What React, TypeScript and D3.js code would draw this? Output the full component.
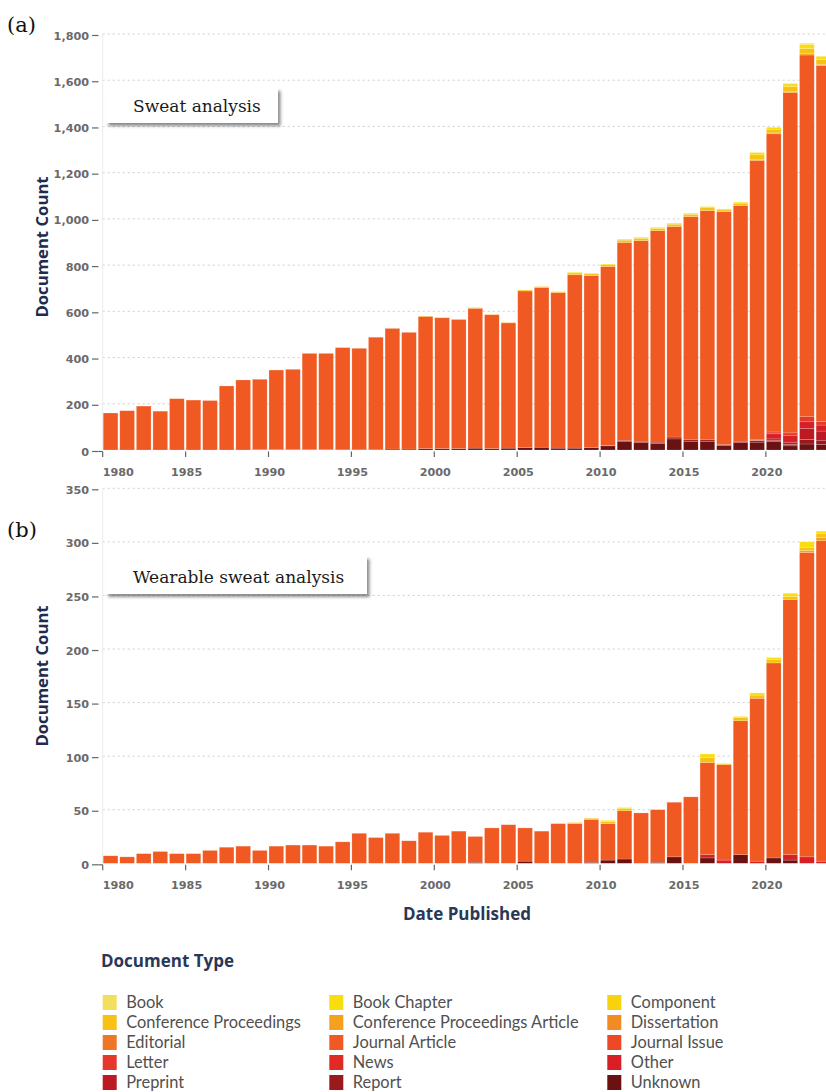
import React from "react";
import * as d3 from "d3";

// Publication years shown on both panels
const YEARS = d3.range(1980, 2024);

// Legend order (top of each bar stack first)
const DOC_TYPES = [
  "Book",
  "Book Chapter",
  "Component",
  "Conference Proceedings",
  "Conference Proceedings Article",
  "Dissertation",
  "Editorial",
  "Journal Article",
  "Journal Issue",
  "Letter",
  "News",
  "Other",
  "Preprint",
  "Report",
  "Unknown",
];
const DOC_COLORS = [
  "#f3df5e",
  "#f9dd0d",
  "#f8d10f",
  "#f7c116",
  "#f5a01f",
  "#f28b21",
  "#ef7624",
  "#f05a22",
  "#ec4924",
  "#e5372a",
  "#df2a26",
  "#d81f26",
  "#bb1a22",
  "#981a1d",
  "#6a1111",
];

// ---- (a) Sweat analysis: documents per year by type ----
const sweatJournalArticle = [
  160, 170, 190, 168, 222, 216, 214, 277, 303, 304,
  344, 347, 416, 416, 440, 437, 485, 522, 505, 572,
  566, 559, 605, 579, 542, 678, 691, 673, 750, 744,
  774, 856, 868, 915, 911, 966, 992, 1007, 1020, 1209,
  1290, 1472, 1565, 1539,
];
const sweatUnknown = [
  0, 0, 0, 0, 0, 0, 0, 0, 0, 2,
  2, 2, 2, 2, 3, 3, 3, 4, 4, 6,
  6, 6, 8, 6, 8, 10, 12, 8, 8, 10,
  18, 36, 32, 28, 48, 38, 38, 20, 32, 34,
  36, 18, 26, 24,
];
const sweatReport = [
  0, 0, 0, 0, 0, 0, 0, 0, 0, 0,
  0, 0, 0, 0, 0, 0, 0, 0, 0, 0,
  0, 0, 0, 0, 0, 0, 0, 0, 0, 0,
  2, 6, 6, 6, 8, 6, 6, 4, 6, 6,
  6, 6, 20, 16,
];
const sweatPreprint = [
  0, 0, 0, 0, 0, 0, 0, 0, 0, 0,
  0, 0, 0, 0, 0, 0, 0, 0, 0, 0,
  0, 0, 0, 0, 0, 0, 0, 0, 0, 0,
  0, 0, 0, 0, 0, 0, 0, 0, 0, 2,
  6, 10, 48, 42,
];
const sweatOther = [
  0, 0, 0, 0, 0, 0, 0, 0, 0, 0,
  0, 0, 0, 0, 0, 0, 0, 0, 0, 0,
  0, 0, 0, 0, 0, 0, 0, 0, 0, 0,
  0, 0, 0, 0, 0, 0, 0, 0, 0, 2,
  22, 30, 28, 26,
];
const sweatLetter = [
  0, 0, 0, 0, 0, 0, 0, 0, 0, 0,
  0, 0, 0, 0, 0, 0, 0, 0, 0, 0,
  0, 0, 0, 0, 0, 0, 0, 0, 0, 0,
  0, 0, 0, 0, 0, 0, 0, 0, 0, 0,
  8, 10, 22, 16,
];
const sweatConfArticle = [
  0, 0, 0, 0, 0, 0, 0, 0, 0, 0,
  0, 0, 0, 0, 0, 0, 0, 0, 0, 0,
  0, 0, 0, 0, 0, 0, 0, 0, 0, 0,
  0, 0, 0, 0, 0, 0, 0, 0, 0, 4,
  4, 6, 6, 6,
];
const sweatConfProc = [
  0, 0, 0, 0, 0, 0, 0, 0, 0, 0,
  0, 0, 0, 0, 0, 0, 0, 0, 0, 2,
  2, 2, 3, 2, 2, 4, 4, 4, 8, 8,
  8, 10, 10, 10, 10, 10, 12, 8, 10, 20,
  16, 20, 22, 20,
];
const sweatBookChapter = [
  0, 0, 0, 0, 0, 0, 0, 0, 0, 0,
  0, 0, 0, 0, 0, 0, 0, 0, 0, 0,
  0, 0, 0, 0, 0, 0, 0, 0, 3, 3,
  3, 4, 4, 4, 4, 4, 5, 4, 4, 10,
  8, 12, 18, 12,
];
const sweatBook = [
  0, 0, 0, 0, 0, 0, 0, 0, 0, 0,
  0, 0, 0, 0, 0, 0, 0, 0, 0, 0,
  0, 0, 0, 0, 0, 0, 0, 0, 0, 0,
  0, 0, 0, 0, 0, 0, 0, 0, 0, 0,
  0, 3, 5, 4,
];

// ---- (b) Wearable sweat analysis ----
const wearJournalArticle = [
  7, 6, 9, 11, 9, 9, 12, 15, 16, 12,
  16, 17, 17, 16, 20, 28, 24, 28, 21, 29,
  26, 30, 24, 33, 36, 31, 30, 37, 37, 40,
  34, 45, 47, 49, 51, 62, 86, 89, 125, 152,
  182, 238, 284, 299,
];
const wearUnknown = [
  0, 0, 0, 0, 0, 0, 0, 0, 0, 0,
  0, 0, 0, 0, 0, 0, 0, 0, 0, 0,
  0, 0, 1, 0, 0, 2, 0, 0, 0, 1,
  3, 4, 0, 1, 6, 0, 5, 0, 8, 0,
  5, 3, 0, 0,
];
const wearOther = [
  0, 0, 0, 0, 0, 0, 0, 0, 0, 0,
  0, 0, 0, 0, 0, 0, 0, 0, 0, 0,
  0, 0, 0, 0, 0, 0, 0, 0, 0, 0,
  0, 0, 0, 0, 0, 0, 3, 3, 0, 2,
  0, 5, 6, 2,
];
const wearConfArticle = [
  0, 0, 0, 0, 0, 0, 0, 0, 0, 0,
  0, 0, 0, 0, 0, 0, 0, 0, 0, 0,
  0, 0, 0, 0, 0, 0, 0, 0, 0, 0,
  0, 0, 0, 0, 0, 0, 0, 0, 0, 0,
  0, 0, 2, 3,
];
const wearConfProc = [
  0, 0, 0, 0, 0, 0, 0, 0, 0, 0,
  0, 0, 0, 0, 0, 0, 0, 0, 0, 0,
  0, 0, 0, 0, 0, 0, 0, 0, 1, 1,
  2, 2, 0, 0, 0, 0, 5, 1, 3, 3,
  3, 3, 3, 4,
];
const wearBookChapter = [
  0, 0, 0, 0, 0, 0, 0, 0, 0, 0,
  0, 0, 0, 0, 0, 0, 0, 0, 0, 0,
  0, 0, 0, 0, 0, 0, 0, 0, 0, 0,
  1, 1, 0, 0, 0, 0, 3, 0, 1, 2,
  2, 3, 5, 2,
];

const SWEAT_TICKS = [0, 200, 400, 600, 800, 1000, 1200, 1400, 1600, 1800];
const WEAR_TICKS = [0, 50, 100, 150, 200, 250, 300, 350];

const sweatSeries: Record<string, number[]> = {
  "Journal Article": sweatJournalArticle,
  Unknown: sweatUnknown,
  Report: sweatReport,
  Preprint: sweatPreprint,
  Other: sweatOther,
  Letter: sweatLetter,
  "Conference Proceedings Article": sweatConfArticle,
  "Conference Proceedings": sweatConfProc,
  "Book Chapter": sweatBookChapter,
  Book: sweatBook,
};
const wearSeries: Record<string, number[]> = {
  "Journal Article": wearJournalArticle,
  Unknown: wearUnknown,
  Other: wearOther,
  "Conference Proceedings Article": wearConfArticle,
  "Conference Proceedings": wearConfProc,
  "Book Chapter": wearBookChapter,
};

const color = d3.scaleOrdinal<string, string>(DOC_TYPES, DOC_COLORS);

const X_LEFT = 102.7;
const YEAR_W = 16.58;
const x = d3
  .scaleTime()
  .domain([new Date(1980, 0, 1), new Date(2025, 0, 1)])
  .range([X_LEFT, X_LEFT + 45 * YEAR_W]);

const TICK_FONT = "'DejaVu Sans', Verdana, sans-serif";
const SANS = "'Open Sans', 'Noto Sans', sans-serif";
const LEGEND_FONT = "Lato, 'Open Sans', sans-serif";
const SERIF = "'DejaVu Serif', serif";

type PanelProps = {
  series: Record<string, number[]>;
  ticks: number[];
  yBottom: number;
  yTop: number;
  tag: string;
  tagY: number;
  title: string;
  box: { x: number; y: number; w: number; h: number };
  axisLabelY: number;
};

function Panel({ series, ticks, yBottom, yTop, tag, tagY, title, box, axisLabelY }: PanelProps) {
  const y = d3
    .scaleLinear()
    .domain([0, ticks[ticks.length - 1]])
    .range([yBottom, yTop]);

  const rows = YEARS.map((year, i) => {
    const row: Record<string, number> = { year };
    DOC_TYPES.forEach((t) => {
      row[t] = series[t] ? series[t][i] : 0;
    });
    return row;
  });
  const layers = d3.stack<Record<string, number>>().keys([...DOC_TYPES].reverse())(rows);

  const yearTicks = x.ticks(d3.timeYear.every(5)!).filter((d) => d.getFullYear() <= 2020);

  return (
    <g>
      {/* horizontal dotted grid */}
      {ticks
        .filter((t) => t > 0)
        .map((t) => (
          <line
            key={"g" + t}
            x1={X_LEFT}
            x2={826}
            y1={y(t)}
            y2={y(t)}
            stroke="#cfcfcf"
            strokeWidth={1}
            strokeDasharray="2,3"
          />
        ))}
      {/* faint y axis line */}
      <line x1={X_LEFT} x2={X_LEFT} y1={yTop} y2={yBottom} stroke="#ececec" strokeWidth={1} />

      {/* stacked bars */}
      {layers.map((layer) => (
        <g key={layer.key} fill={color(layer.key)}>
          {layer.map((d, i) => {
            const h = y(d[0]) - y(d[1]);
            if (h <= 0) return null;
            const year = YEARS[i];
            const x0 = x(new Date(year, 0, 1));
            const x1 = x(new Date(year + 1, 0, 1));
            return (
              <rect
                key={year}
                x={x0 + 0.5}
                y={y(d[1])}
                width={x1 - x0 - 1.9}
                height={h}
                stroke="#fff"
                strokeOpacity={0.35}
                strokeWidth={0.5}
              />
            );
          })}
        </g>
      ))}

      {/* y ticks and labels */}
      {ticks.map((t) => (
        <g key={"t" + t}>
          <line x1={92} x2={98.5} y1={y(t) + 1.5} y2={y(t) + 1.5} stroke="#666" strokeWidth={1.2} />
          <text
            x={89}
            y={y(t) + 5.5}
            textAnchor="end"
            fontFamily={TICK_FONT}
            fontSize={11.2}
            fontWeight={700}
            fill="#6a6a6a"
          >
            {d3.format(",")(t)}
          </text>
        </g>
      ))}
      <line x1={98.5} x2={X_LEFT} y1={yBottom + 1.5} y2={yBottom + 1.5} stroke="#666" strokeWidth={1.2} />

      {/* x ticks and labels */}
      {yearTicks.map((d, i) => {
        const px = x(d);
        return (
          <g key={"x" + i}>
            <line x1={px} x2={px} y1={yBottom + 1.5} y2={yBottom + 7} stroke="#666" strokeWidth={1.2} />
            <text
              x={i === 0 ? px : px + 1}
              y={yBottom + 26}
              textAnchor={i === 0 ? "start" : "middle"}
              fontFamily={TICK_FONT}
              fontSize={11.2}
              fontWeight={700}
              fill="#6a6a6a"
            >
              {d.getFullYear()}
            </text>
          </g>
        );
      })}

      {/* axis title */}
      <text
        transform={`translate(48,${axisLabelY}) rotate(-90)`}
        textAnchor="middle"
        fontFamily={SANS}
        fontSize={16.7}
        fontWeight={700}
        fill="#1e2c50"
      >
        Document Count
      </text>

      {/* panel tag */}
      <text x={7} y={tagY} fontFamily={SERIF} fontSize={21} fill="#111">
        {tag}
      </text>

      {/* title box */}
      <rect x={box.x} y={box.y} width={box.w} height={box.h} fill="#fff" filter="url(#boxShadow)" />
      <text x={133} y={box.y + box.h - 11} fontFamily={SERIF} fontSize={17} fill="#1a1a1a">
        {title}
      </text>
    </g>
  );
}

export default function App() {
  return (
    <svg
      width={826}
      height={1092}
      style={{ position: "absolute", left: 0, top: 0, display: "block" }}
    >
      <defs>
        <filter id="boxShadow" x="-10%" y="-20%" width="130%" height="160%">
          <feDropShadow dx="2.5" dy="3" stdDeviation="1.5" floodColor="#333" floodOpacity="0.55" />
        </filter>
      </defs>
      <rect width={826} height={1092} fill="#fff" />

      <Panel
        series={sweatSeries}
        ticks={SWEAT_TICKS}
        yBottom={450}
        yTop={34}
        tag="(a)"
        tagY={32}
        title="Sweat analysis"
        box={{ x: 106, y: 88, w: 172, h: 35 }}
        axisLabelY={247}
      />
      <Panel
        series={wearSeries}
        ticks={WEAR_TICKS}
        yBottom={863.3}
        yTop={488.3}
        tag="(b)"
        tagY={537}
        title="Wearable sweat analysis"
        box={{ x: 106, y: 556, w: 261, h: 38 }}
        axisLabelY={676}
      />

      {/* shared x axis title */}
      <text x={467} y={920} textAnchor="middle" fontFamily={SANS} fontSize={17} fontWeight={700} fill="#2a3858">
        Date Published
      </text>

      {/* legend */}
      <text x={101} y={967} fontFamily={SANS} fontSize={17} fontWeight={700} fill="#2a3858">
        Document Type
      </text>
      {DOC_TYPES.map((t, i) => {
        const col = i % 3;
        const row = Math.floor(i / 3);
        const sx = [102.7, 329.3, 607.3][col];
        const by = 1008 + row * 20;
        return (
          <g key={t}>
            <rect x={sx} y={by - 13} width={14} height={15} fill={color(t)} />
            <text x={sx + 23.5} y={by} fontFamily={LEGEND_FONT} fontSize={16.4} fill="#505050">
              {t}
            </text>
          </g>
        );
      })}
    </svg>
  );
}
